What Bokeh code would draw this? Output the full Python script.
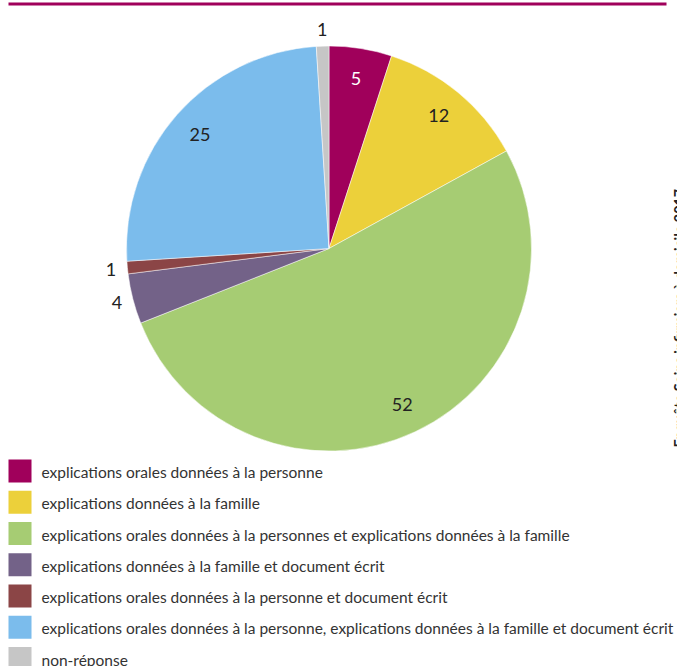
import numpy as np
from bokeh.plotting import figure
from bokeh.models import Range1d, ColumnDataSource
from bokeh.core.properties import value
from bokeh.embed import file_html
from bokeh.resources import INLINE

categories = [
    "explications orales données à la personne",
    "explications données à la famille",
    "explications orales données à la personnes et explications données à la famille",
    "explications données à la famille et document écrit",
    "explications orales données à la personne et document écrit",
    "explications orales données à la personne, explications données à la famille et document écrit",
    "non-réponse",
]
values = [5, 12, 52, 4, 1, 25, 1]
colors = ["#a0005b", "#ecd03a", "#a6cc73", "#736288", "#8b4546", "#7bbcec", "#c6c6c6"]
source_text = "Enquête Soins infirmiers à domicile 2017"

W, H = 677, 666
FONT = value("Lato")

p = figure(width=W, height=H, output_backend="svg", toolbar_location=None,
           x_range=Range1d(0, W), y_range=Range1d(0, H), min_border=0)
p.axis.visible = False
p.grid.visible = False
p.outline_line_color = None
p.background_fill_color = "white"

def sy(y):  # screen y -> data y
    return H - y

# top rule
p.segment(x0=[8], y0=[sy(3.5)], x1=[666], y1=[sy(3.5)], line_color="#a0005b", line_width=3)

# pie
cx, cy, R = 328.5, sy(248), 202.5
vals = np.array(values, dtype=float)
frac = vals / vals.sum()
cum = np.concatenate([[0], np.cumsum(frac)])
start = np.pi / 2 - 2 * np.pi * cum[1:]
end = np.pi / 2 - 2 * np.pi * cum[:-1]
src = ColumnDataSource(dict(start=start, end=end, color=colors))
p.wedge(x=cx, y=cy, radius=R, start_angle="start", end_angle="end", color="color",
        line_color="white", line_width=0.5, source=src)

mid = (start + end) / 2
lr = np.where(vals <= 4, 219, 172)
lx = cx + lr * np.cos(mid)
ly = cy + lr * np.sin(mid)
lcol = ["white" if c == "#a0005b" else "#222222" for c in colors]
p.text(x=lx, y=ly, text=[str(v) for v in values], text_color=lcol,
       text_align="center", text_baseline="middle", text_font=FONT, text_font_size="18px")

# legend
n = len(categories)
top = np.array([459 + 31.25 * i for i in range(n)], dtype=float)
p.quad(left=8, right=31, top=sy(top), bottom=sy(top + 23), color=colors, line_color=None)
p.text(x=41, y=sy(top + 12.5), text=categories, text_color="#333333",
       text_align="left", text_baseline="middle", text_font=FONT, text_font_size="15.5px")

# vertical source text (clipped at right edge, as in the reference)
p.text(x=[670], y=[sy(447)], text=[source_text], angle=np.pi / 2, text_color="#222222",
       text_align="left", text_baseline="top", text_font=FONT, text_font_style="bold",
       text_font_size="14.3px")

open("out.html", "w").write(file_html(p, INLINE))
